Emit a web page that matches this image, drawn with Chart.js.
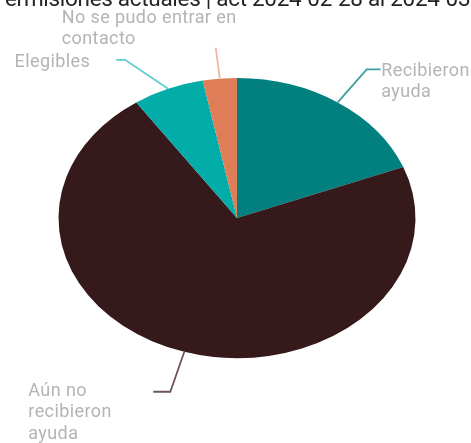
<!DOCTYPE html>
<html>
<head>
<meta charset="utf-8">
<script src="https://cdn.jsdelivr.net/npm/chart.js@4/dist/chart.umd.min.js"></script>
<style>
  html, body { margin: 0; padding: 0; background: #fff; overflow: hidden; }
  #wrap { position: relative; width: 471px; height: 443px; }
</style>
</head>
<body>
<div id="wrap"><canvas id="pie-chart"></canvas></div>
<script>
// Chart data
const categories = ['Recibieron ayuda', 'Aún no recibieron ayuda', 'Elegibles', 'No se pudo entrar en contacto'];
const labelLines = [['Recibieron', 'ayuda'], ['Aún no', 'recibieron', 'ayuda'], ['Elegibles'], ['No se pudo entrar en', 'contacto']];
const counts = [62, 232, 21, 10];
const titleText = '9 Permisiones actuales | act 2024-02-28 al 2024-03-06';

const sliceColors = ['#01807f', '#361a1b', '#01aca9', '#df7e58'];
const lineColors = ['#3f9f9e', '#6e5556', '#5fcdca', '#f1b79f'];

// Leader line layout: elbow offset from the slice edge, horizontal tail, text anchor from line end
const labelLayout = [
  { elbow: [29, -33], tail: 14, text: [0.5, 6.5], align: 'left' },
  { elbow: [-14, 40], tail: -17, text: [-125, 4], align: 'left' },
  { elbow: [-43, -29], tail: -9, text: [-26, 7.4], align: 'right' },
  { elbow: [-4, -31], tail: 0, text: [-154, -25], align: 'left' },
];

// Horizontal stretch, the reference pie is drawn as an ellipse
const stretchX = 1.275;

const ellipsePlugin = {
  id: 'ellipse',
  beforeDatasetsDraw(chart) {
    const arc = chart.getDatasetMeta(0).data[0];
    const ctx = chart.ctx;
    ctx.save();
    ctx.translate(arc.x, arc.y);
    ctx.scale(stretchX, 1);
    ctx.translate(-arc.x, -arc.y);
  },
  afterDatasetsDraw(chart) {
    chart.ctx.restore();
  },
};

const labelPlugin = {
  id: 'leaderLabels',
  afterDraw(chart) {
    const ctx = chart.ctx;
    const meta = chart.getDatasetMeta(0);
    ctx.save();
    ctx.font = '18px Roboto';
    ctx.letterSpacing = '0.4px';
    ctx.fillStyle = '#b4b4b4';
    meta.data.forEach((arc, i) => {
      const lay = labelLayout[i];
      const mid = (arc.startAngle + arc.endAngle) / 2;
      const sx = arc.x + Math.cos(mid) * arc.outerRadius * stretchX;
      const sy = arc.y + Math.sin(mid) * arc.outerRadius;
      const ex = sx + lay.elbow[0];
      const ey = sy + lay.elbow[1];
      const tx = ex + lay.tail;

      ctx.strokeStyle = lineColors[i];
      ctx.lineWidth = 1.8;
      ctx.beginPath();
      ctx.moveTo(sx, sy);
      ctx.lineTo(ex, ey);
      ctx.lineTo(tx, ey);
      ctx.stroke();

      ctx.textAlign = lay.align;
      ctx.textBaseline = 'alphabetic';
      labelLines[i].forEach((line, j) => {
        ctx.fillText(line, tx + lay.text[0], ey + lay.text[1] + j * 21.5);
      });
    });

    // Title, partly cut at the top edge
    ctx.font = '22.5px Roboto';
    ctx.letterSpacing = '-0.3px';
    ctx.fillStyle = '#252423';
    ctx.textAlign = 'left';
    const prefix = titleText.slice(0, titleText.indexOf('2024'));
    const startX = 252 - ctx.measureText(prefix).width;
    ctx.fillText(titleText, startX, 6);
    ctx.restore();
  },
};

new Chart(document.getElementById('pie-chart'), {
  type: 'pie',
  data: {
    labels: categories,
    datasets: [
      {
        data: counts,
        backgroundColor: sliceColors,
        borderWidth: 0,
      },
    ],
  },
  options: {
    responsive: true,
    maintainAspectRatio: false,
    animation: false,
    layout: {
      padding: { top: 78, bottom: 85, left: 3, right: 0 },
    },
    plugins: {
      legend: { display: false },
      tooltip: { enabled: false },
    },
  },
  plugins: [ellipsePlugin, labelPlugin],
});
</script>
</body>
</html>
